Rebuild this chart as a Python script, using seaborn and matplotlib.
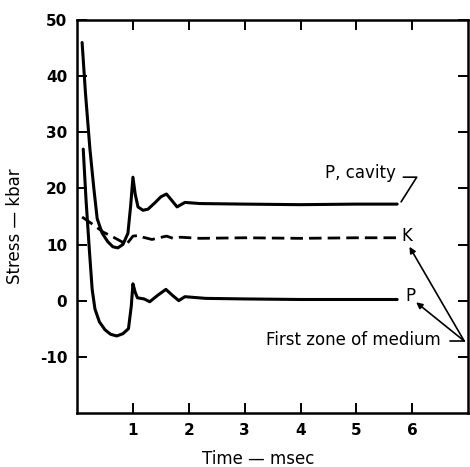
import numpy as np
import pandas as pd
import matplotlib
matplotlib.use("Agg")
import matplotlib.pyplot as plt
import seaborn as sns

# ---- data ----
t_cavity = [0.09, 0.15, 0.23, 0.30, 0.36, 0.45, 0.55, 0.64, 0.73, 0.82, 0.91, 0.96,
            1.00, 1.04, 1.09, 1.18, 1.27, 1.40, 1.50, 1.60, 1.70, 1.79, 1.93, 2.2,
            3.0, 4.0, 5.0, 5.73]
p_cavity = [46, 37, 27, 20, 14.6, 12, 10.5, 9.6, 9.4, 10, 12, 17,
            22, 19, 16.7, 16.1, 16.3, 17.5, 18.5, 19, 17.8, 16.7, 17.5, 17.3,
            17.2, 17.1, 17.2, 17.2]

t_p = [0.11, 0.16, 0.22, 0.27, 0.32, 0.40, 0.50, 0.60, 0.71, 0.82, 0.92, 0.97,
       1.00, 1.04, 1.08, 1.20, 1.30, 1.45, 1.59, 1.70, 1.82, 1.93, 2.3, 3.0,
       4.0, 5.0, 5.73]
p_zone = [27, 18, 9, 2, -1.5, -3.8, -5.2, -6, -6.3, -5.9, -5, -1,
          3, 1.5, 0.5, 0.3, -0.2, 1, 2, 1, 0, 0.7, 0.4, 0.3,
          0.2, 0.2, 0.2]

t_k = [0.09, 0.25, 0.47, 0.65, 0.80, 0.86, 0.93, 1.00, 1.10, 1.18, 1.34, 1.47,
       1.60, 1.72, 1.85, 2.2, 3.0, 4.0, 5.0, 5.71]
k_zone = [14.9, 13.8, 12.2, 11.3, 10.5, 9.8, 10.6, 11.5, 11.6, 11.3, 10.9, 11.2,
          11.5, 11.1, 11.3, 11.1, 11.2, 11.1, 11.2, 11.2]

x_ticks = [1, 2, 3, 4, 5, 6]
y_ticks = [-10, 0, 10, 20, 30, 40, 50]

sns.set_style("ticks")
plt.rcParams['font.family'] = ['DejaVu Sans']
plt.rcParams['text.color'] = 'black'
plt.rcParams['axes.labelcolor'] = 'black'

fig = plt.figure(figsize=(4.7, 4.67), dpi=100)
ax = fig.add_axes([0.164, 0.116, 0.832, 0.841])

sns.lineplot(x=t_cavity, y=p_cavity, ax=ax, color="black", lw=2.2, sort=False)
sns.lineplot(x=t_p, y=p_zone, ax=ax, color="black", lw=2.2, sort=False)
sns.lineplot(x=t_k, y=k_zone, ax=ax, color="black", lw=2.0, sort=False,
             linestyle=(0, (4.5, 2.2)))

ax.set_xlim(0, 7)
ax.set_ylim(-20, 50)
ax.set_xticks(x_ticks)
ax.set_yticks(y_ticks)
ax.set_xticklabels([str(v) for v in x_ticks], fontsize=11, fontweight="bold")
ax.set_yticklabels([str(v) for v in y_ticks], fontsize=11, fontweight="bold")
ax.tick_params(direction="in", length=7, width=1.4, top=True, right=True,
               pad=7, colors="black")
for s in ax.spines.values():
    s.set_linewidth(1.8)
    s.set_color("black")

ax.set_xlabel("Time — msec", fontsize=12)
ax.set_ylabel("Stress — kbar", fontsize=12)
ax.xaxis.set_label_coords(0.463, -0.095)
ax.yaxis.set_label_coords(-0.135, 0.476)

# annotations
ax.text(4.43, 22.7, "P, cavity", fontsize=12, va="center", ha="left")
ax.plot([5.84, 6.08, 5.80], [22.0, 22.0, 17.6], color="black", lw=1.2)
ax.text(5.80, 11.6, "K", fontsize=12, va="center", ha="left")
ax.text(5.88, 0.8, "P", fontsize=12, va="center", ha="left")
ax.text(3.39, -7.1, "First zone of medium", fontsize=12, va="center", ha="left")
ax.plot([6.68, 6.93], [-7.2, -7.2], color="black", lw=1.2)
ax.annotate("", xy=(5.95, 9.6), xytext=(6.93, -7.2),
            arrowprops=dict(arrowstyle="-|>", color="black", lw=1.2,
                            mutation_scale=9, shrinkA=0, shrinkB=0))
ax.annotate("", xy=(6.07, -0.3), xytext=(6.93, -7.2),
            arrowprops=dict(arrowstyle="-|>", color="black", lw=1.2,
                            mutation_scale=9, shrinkA=0, shrinkB=0))

fig.savefig("out.png", dpi=100, facecolor="white")
